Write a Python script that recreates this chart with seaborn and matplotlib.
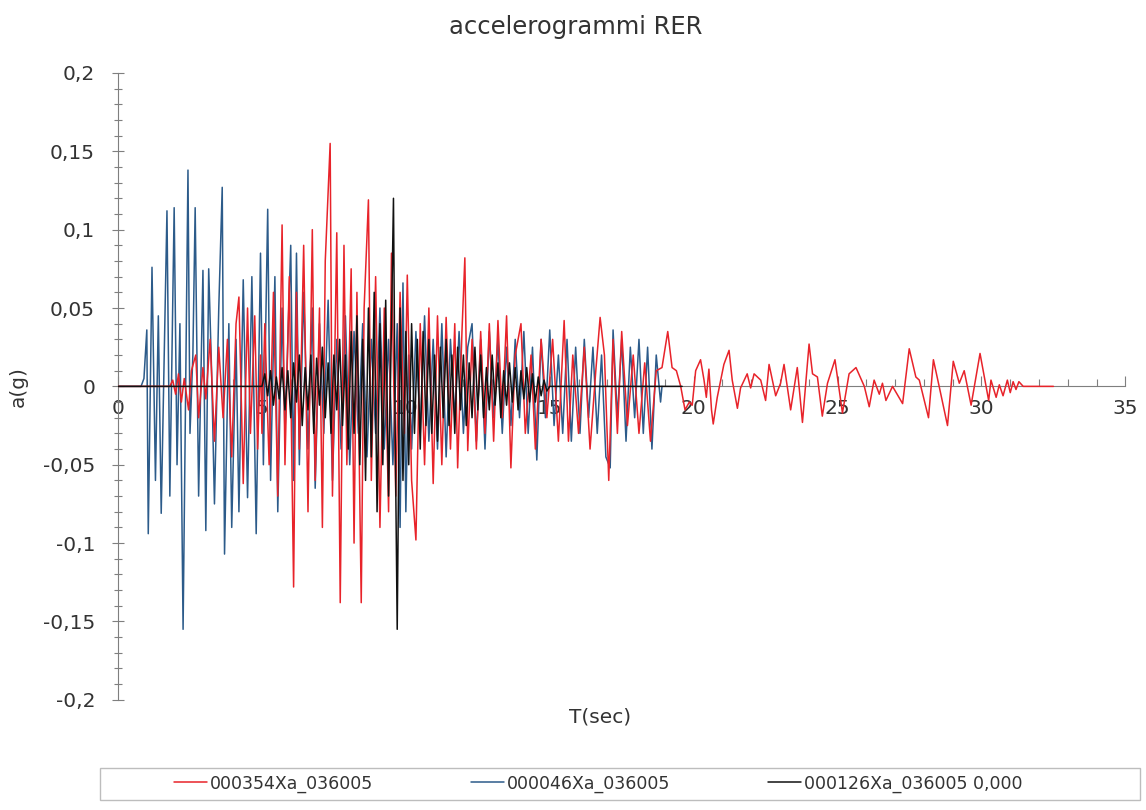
import matplotlib.pyplot as plt
import matplotlib.ticker as mticker
from matplotlib.patches import Rectangle
import seaborn as sns

# accelerogram peaks (time in s, acceleration in g)
t_red = [0.0, 1.8, 1.9, 2.0, 2.1, 2.2, 2.3, 2.45, 2.55, 2.7, 2.8, 2.95, 3.05, 3.2, 3.35, 3.5, 3.65,
         3.8, 3.95, 4.1, 4.2, 4.35, 4.5, 4.6, 4.75, 4.85, 4.95,
         5.0, 5.1, 5.25, 5.4, 5.55, 5.7, 5.8, 5.95, 6.1, 6.2, 6.3, 6.45, 6.6, 6.75, 6.85, 7.0, 7.1,
         7.2, 7.37, 7.45, 7.6, 7.72, 7.85, 7.95, 8.1, 8.2, 8.3, 8.45, 8.55, 8.7, 8.8, 8.95, 9.1,
         9.25, 9.4, 9.5, 9.65, 9.8, 9.95, 10.05, 10.2, 10.35, 10.5, 10.65, 10.8, 10.95, 11.1, 11.25,
         11.4, 11.55, 11.7, 11.8, 11.95, 12.05, 12.15, 12.3, 12.45, 12.6, 12.75, 12.9, 13.05, 13.2,
         13.35, 13.5, 13.65, 13.8, 14.0, 14.15, 14.35, 14.5, 14.7, 14.9, 15.1, 15.3, 15.5, 15.65,
         15.8, 16.0, 16.2, 16.4, 16.6, 16.75, 16.9, 17.05, 17.2, 17.35, 17.5, 17.7, 17.9, 18.1,
         18.3, 18.5, 18.7, 18.9, 19.1, 19.25, 19.4, 19.55, 19.7, 19.85,
         19.95, 20.07, 20.24, 20.36, 20.44, 20.53, 20.62, 20.68, 20.82, 21.05, 21.23, 21.34, 21.52,
         21.63, 21.86, 21.98, 22.10, 22.33, 22.50, 22.62, 22.85, 23.02, 23.14, 23.37, 23.60, 23.78,
         24.01, 24.13, 24.30, 24.47, 24.65, 24.91, 25.17, 25.40, 25.64, 25.93, 26.10, 26.27, 26.45,
         26.56, 26.68, 26.91, 27.26, 27.49, 27.72, 27.84, 28.16, 28.33, 28.53, 28.82, 29.02, 29.23,
         29.40, 29.64, 29.95, 30.25, 30.33, 30.51, 30.62, 30.75, 30.9, 31.0, 31.1, 31.2, 31.3,
         31.45, 32.5]
a_red = [0.0, 0.0, 0.004, -0.005, 0.008, -0.01, 0.005, -0.015, 0.01, 0.02, -0.02, 0.012, -0.008,
         0.03, -0.035, 0.025, -0.02, 0.03, -0.045, 0.04, 0.057, -0.062, 0.05, -0.03, 0.045, -0.04,
         0.02,
         -0.03, 0.04, -0.05, 0.06, -0.07, 0.103, -0.05, 0.07, -0.128, 0.06, -0.04, 0.09, -0.08, 0.1,
         -0.06, 0.05, -0.09, 0.08, 0.155, -0.07, 0.098, -0.138, 0.09, -0.05, 0.075, -0.1, 0.06,
         -0.138, 0.05, 0.119, -0.06, 0.07, -0.09, 0.05, -0.08, 0.085, -0.07, 0.06, -0.03, 0.071,
         -0.06, -0.098, 0.04, -0.05, 0.05, -0.062, 0.045, -0.05, 0.044, -0.04, 0.04, -0.052, 0.035,
         0.082, -0.041, 0.03, -0.04, 0.035, -0.03, 0.04, -0.035, 0.042, -0.02, 0.045, -0.052, 0.02,
         0.04, -0.03, 0.02, -0.04, 0.03, -0.02, 0.03, -0.035, 0.042, -0.035, 0.02, -0.03, 0.025,
         -0.04, 0.01, 0.044, 0.02, -0.06, 0.03, -0.03, 0.035, -0.025, 0.02, -0.03, 0.015, -0.035,
         0.01, 0.012, 0.035, 0.012, 0.01, 0.0, -0.015, -0.01,
         -0.012, 0.010, 0.017, 0.004, -0.007, 0.011, -0.015, -0.024, -0.007, 0.014, 0.023, 0.004,
         -0.014, -0.001, 0.008, -0.001, 0.008, 0.004, -0.009, 0.014, -0.006, 0.002, 0.014, -0.015,
         0.012, -0.023, 0.027, 0.008, 0.006, -0.019, 0.002, 0.017, -0.017, 0.008, 0.012, 0.0,
         -0.013, 0.004, -0.005, 0.002, -0.009, 0.0, -0.011, 0.024, 0.006, 0.004, -0.020, 0.017,
         0.0, -0.025, 0.016, 0.002, 0.010, -0.012, 0.021, -0.009, 0.004, -0.007, 0.001, -0.006,
         0.004, -0.004, 0.003, -0.002, 0.003, 0.0, 0.0]

t_blue = [0.0, 0.8, 0.9, 1.0, 1.05, 1.18, 1.3, 1.4, 1.5, 1.7, 1.8, 1.95, 2.05, 2.15, 2.26, 2.43,
          2.5, 2.6, 2.68, 2.8, 2.95, 3.05, 3.15, 3.25, 3.35, 3.5, 3.62, 3.7, 3.85, 3.95, 4.1, 4.2,
          4.35, 4.5, 4.65, 4.8, 4.95, 5.05, 5.2, 5.3, 5.45, 5.55, 5.7, 5.8, 6.0, 6.1, 6.2, 6.3,
          6.45, 6.6, 6.75, 6.85, 7.0, 7.15, 7.3, 7.45, 7.6, 7.75, 7.9, 8.05, 8.2, 8.35, 8.5, 8.65,
          8.8, 8.95, 9.1, 9.25, 9.4, 9.55, 9.7, 9.8, 9.9, 10.0, 10.1, 10.2, 10.35, 10.5, 10.65,
          10.8, 10.95, 11.1, 11.25, 11.4, 11.55, 11.7, 11.85, 12.0, 12.15, 12.3, 12.45, 12.6,
          12.75, 12.9, 13.05, 13.2, 13.35, 13.5, 13.65, 13.8, 13.95, 14.1, 14.25, 14.4, 14.55,
          14.7, 14.85, 15.0, 15.15, 15.3, 15.45, 15.6, 15.75, 15.9, 16.05, 16.2, 16.35, 16.5,
          16.65, 16.8, 16.95, 17.1, 17.2, 17.35, 17.5, 17.65, 17.8, 17.95, 18.1, 18.25, 18.4,
          18.55, 18.7, 18.85, 18.9]
a_blue = [0.0, 0.0, 0.005, 0.036, -0.094, 0.076, -0.06, 0.045, -0.081, 0.112, -0.07, 0.114, -0.05,
          0.04, -0.155, 0.138, -0.03, 0.02, 0.114, -0.07, 0.074, -0.092, 0.075, 0.01, -0.075,
          0.05, 0.127, -0.107, 0.04, -0.09, 0.03, -0.08, 0.068, -0.071, 0.07, -0.094, 0.085,
          -0.05, 0.113, -0.06, 0.07, -0.08, 0.05, -0.03, 0.09, -0.06, 0.085, -0.05, 0.06, -0.04,
          0.05, -0.065, 0.04, -0.03, 0.055, -0.06, 0.03, -0.04, 0.045, -0.05, 0.035, -0.03, 0.04,
          -0.045, 0.03, -0.03, 0.05, -0.04, 0.03, -0.05, 0.04, -0.09, 0.066, -0.08, 0.02, -0.04,
          0.035, -0.03, 0.045, -0.035, 0.03, -0.04, 0.04, -0.045, 0.03, -0.02, 0.035, -0.03,
          0.025, 0.04, -0.035, 0.03, -0.04, 0.035, -0.02, 0.03, -0.03, 0.025, -0.025, 0.03,
          -0.02, 0.035, -0.03, 0.025, -0.047, 0.03, -0.02, 0.036, -0.025, 0.02, -0.03, 0.03,
          -0.035, 0.025, -0.03, 0.03, -0.02, 0.025, -0.03, 0.02, -0.045, -0.052, 0.036, -0.02,
          0.03, -0.035, 0.025, -0.02, 0.03, -0.03, 0.025, -0.04, 0.02, -0.01, 0.0]

t_black = [0.0, 5.0, 5.1, 5.2, 5.3, 5.4, 5.5, 5.6, 5.7, 5.8, 5.9, 6.0, 6.1, 6.2, 6.3, 6.4, 6.5,
           6.6, 6.7, 6.8, 6.9, 7.0, 7.1, 7.2, 7.3, 7.4, 7.5, 7.6, 7.7, 7.8, 7.9, 8.0, 8.1, 8.2,
           8.3, 8.4, 8.5, 8.6, 8.7, 8.8, 8.9, 9.0, 9.1, 9.2, 9.3, 9.4, 9.5, 9.57, 9.63, 9.7, 9.8,
           9.9, 10.0, 10.1, 10.2, 10.3, 10.4, 10.5, 10.6, 10.7, 10.8, 10.9, 11.0, 11.1, 11.2,
           11.3, 11.4, 11.5, 11.6, 11.7, 11.8, 11.9, 12.0, 12.1, 12.2, 12.3, 12.4, 12.5, 12.6,
           12.7, 12.8, 12.9, 13.0, 13.1, 13.2, 13.3, 13.4, 13.5, 13.6, 13.7, 13.8, 13.9, 14.0,
           14.1, 14.2, 14.3, 14.4, 14.5, 14.6, 14.7, 14.8, 14.9, 15.0, 19.6]
a_black = [0.0, 0.0, 0.008, -0.006, 0.01, -0.012, 0.006, -0.008, 0.012, -0.015, 0.01, -0.02,
           0.015, -0.01, 0.02, -0.025, 0.012, -0.015, 0.02, -0.03, 0.018, -0.012, 0.025, -0.02,
           0.015, -0.03, 0.02, -0.015, 0.03, -0.025, 0.02, -0.04, 0.035, -0.03, 0.045, -0.05,
           0.03, -0.06, 0.05, -0.045, 0.06, -0.08, 0.04, -0.05, 0.055, -0.07, 0.04, 0.12, -0.03,
           -0.155, 0.05, -0.06, 0.035, -0.05, 0.04, -0.03, 0.03, -0.04, 0.035, -0.025, 0.03,
           -0.03, 0.02, -0.035, 0.025, -0.02, 0.03, -0.025, 0.02, -0.03, 0.025, -0.015, 0.02,
           -0.025, 0.015, -0.02, 0.025, -0.015, 0.02, -0.02, 0.012, -0.015, 0.02, -0.012, 0.015,
           -0.02, 0.01, -0.012, 0.015, -0.01, 0.012, -0.015, 0.01, -0.008, 0.012, -0.01, 0.008,
           -0.01, 0.006, -0.006, 0.004, -0.003, 0.0, 0.0]

labels = ['000354Xa_036005', '000046Xa_036005', '000126Xa_036005 0,000']
colors = ['#e8232a', '#2c5b8a', '#111111']

sns.set_style('white')
plt.rcParams['font.family'] = ['DejaVu Sans']

fig = plt.figure(figsize=(11.46, 8.10), dpi=100)
ax = fig.add_axes([0.103, 0.136, 0.879, 0.774])

sns.lineplot(x=t_red, y=a_red, ax=ax, color=colors[0], lw=1.1, label=labels[0],
             sort=False, estimator=None, zorder=3)
sns.lineplot(x=t_blue, y=a_blue, ax=ax, color=colors[1], lw=1.1, label=labels[1],
             sort=False, estimator=None, zorder=2)
sns.lineplot(x=t_black, y=a_black, ax=ax, color=colors[2], lw=1.1, label=labels[2],
             sort=False, estimator=None, zorder=4)

ax.set_xlim(0, 35)
ax.set_ylim(-0.2, 0.2)

# axes cross at the origin
for side in ['top', 'right']:
    ax.spines[side].set_visible(False)
ax.spines['left'].set_position(('data', 0))
ax.spines['bottom'].set_position(('data', 0))
ax.spines['left'].set_color('#7f7f7f')
ax.spines['bottom'].set_color('#7f7f7f')
ax.spines['bottom'].set_zorder(1)

ax.xaxis.set_major_locator(mticker.MultipleLocator(5))
ax.xaxis.set_minor_locator(mticker.MultipleLocator(1))
ax.yaxis.set_major_locator(mticker.MultipleLocator(0.05))
ax.yaxis.set_minor_locator(mticker.MultipleLocator(0.01))

def comma(v, pos):
    s = f"{v:g}".replace('.', ',')
    return '0' if s in ('-0', '0') else s

ax.yaxis.set_major_formatter(mticker.FuncFormatter(comma))
ax.tick_params(axis='x', which='both', bottom=True, direction='in', color='#7f7f7f',
               labelsize=14.5, labelcolor='#333333', pad=9, width=0.8)
ax.tick_params(axis='x', which='major', length=7)
ax.tick_params(axis='x', which='minor', length=5)
ax.tick_params(axis='y', which='both', left=True, direction='inout', color='#7f7f7f',
               labelsize=14.5, labelcolor='#333333', pad=12, width=0.8)
ax.tick_params(axis='y', which='major', length=9)
ax.tick_params(axis='y', which='minor', length=6)

ax.set_xlabel('')
ax.set_ylabel('')
fig.text(0.016, 0.523, 'a(g)', rotation=90, ha='center', va='center', fontsize=14.5, color='#333333')
fig.text(0.524, 0.115, 'T(sec)', ha='center', va='center', fontsize=14.5, color='#333333')
fig.text(0.502, 0.967, 'accelerogrammi RER', ha='center', va='center', fontsize=17.5, color='#333333')

# legend entries without frame, framed by a separate box
handles, labs = ax.get_legend_handles_labels()
ax.get_legend().remove()
fig.legend(handles, labs, loc='center', bbox_to_anchor=(0.522, 0.0325), ncol=3, frameon=False,
           fontsize=12.5, handlelength=1.9, handletextpad=0.2, columnspacing=5.6,
           labelcolor='#333333')
fig.patches.append(Rectangle((0.0873, 0.0123), 0.9075, 0.0395, transform=fig.transFigure,
                             fill=False, edgecolor='#bdbdbd', lw=1.0))

fig.savefig('out.png', dpi=100)
plt.close(fig)
